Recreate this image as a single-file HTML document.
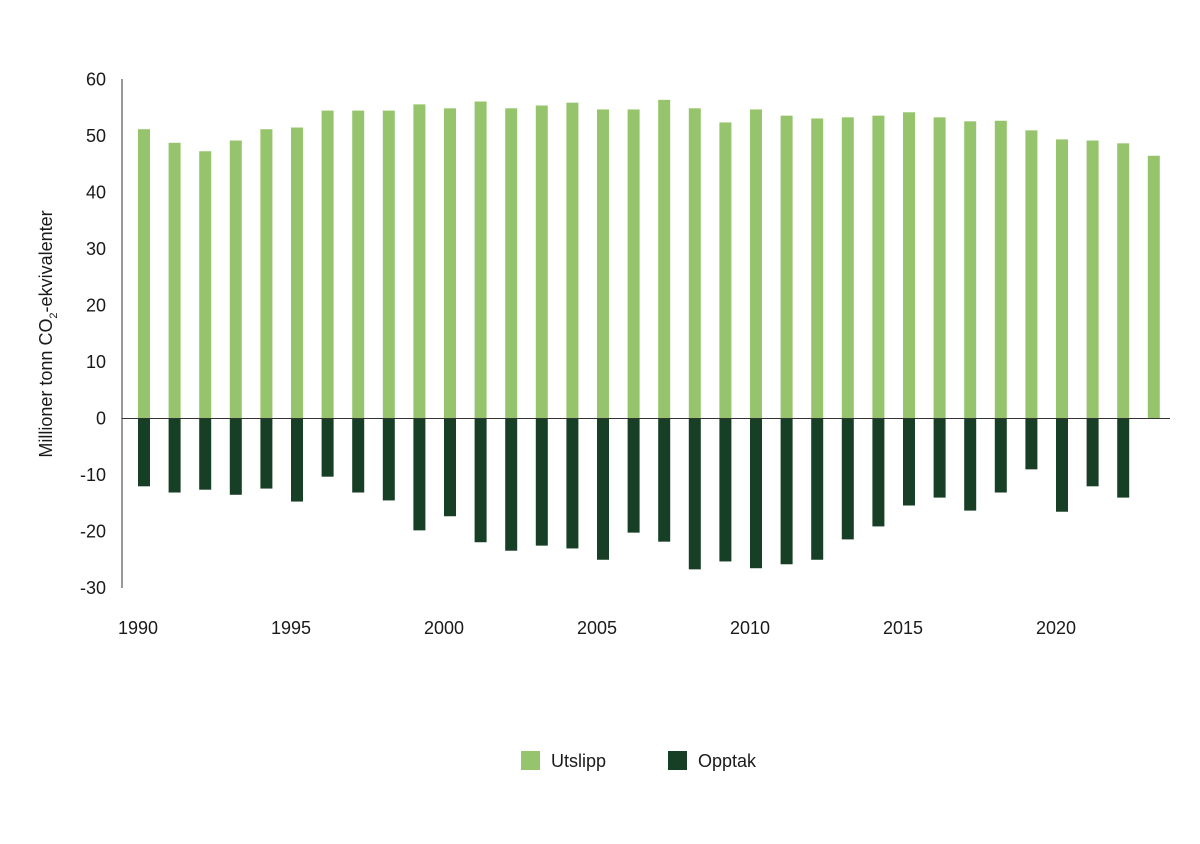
<!DOCTYPE html>
<html><head><meta charset="utf-8"><style>
body{margin:0;background:#fff;}
svg text{font-family:"Liberation Sans",sans-serif;fill:#1a1a1a;}
</style></head><body>
<svg width="1200" height="839">
<g id="ticks"></g><g id="bars"></g>
<line x1="122" y1="79" x2="122" y2="588" stroke="#333" stroke-width="1"/>
<line x1="122" y1="418.5" x2="1170" y2="418.5" stroke="#333" stroke-width="1"/>
<text transform="translate(52,334) rotate(-90)" text-anchor="middle" font-size="18">Millioner tonn CO<tspan font-size="11" dy="5">2</tspan><tspan dy="-5">-ekvivalenter</tspan></text>
<g>
<rect x="521" y="751" width="19" height="19" fill="#96c46c"/>
<text x="551" y="767" font-size="18">Utslipp</text>
<rect x="668" y="751" width="19" height="19" fill="#173f25"/>
<text x="698" y="767" font-size="18">Opptak</text>
</g>
</svg>
<script>
const years=[1990,1991,1992,1993,1994,1995,1996,1997,1998,1999,2000,2001,2002,2003,2004,2005,2006,2007,2008,2009,2010,2011,2012,2013,2014,2015,2016,2017,2018,2019,2020,2021,2022,2023];
const utslipp=[51.2,48.8,47.3,49.2,51.2,51.5,54.5,54.5,54.5,55.6,54.9,56.1,54.9,55.4,55.9,54.7,54.7,56.4,54.9,52.4,54.7,53.6,53.1,53.3,53.6,54.2,53.3,52.6,52.7,51.0,49.4,49.2,48.7,46.5];
const opptak=[-12.0,-13.1,-12.6,-13.5,-12.4,-14.7,-10.3,-13.1,-14.5,-19.8,-17.3,-21.9,-23.4,-22.5,-23.0,-25.0,-20.2,-21.8,-26.7,-25.3,-26.5,-25.8,-25.0,-21.4,-19.1,-15.4,-14.0,-16.3,-13.1,-9.0,-16.5,-12.0,-14.0,0];
const yTicks=[60,50,40,30,20,10,0,-10,-20,-30];
const xTicks=[1990,1995,2000,2005,2010,2015,2020];
const NS="http://www.w3.org/2000/svg";
const y=v=>418.5-v*5.65;
const x=yr=>144+(yr-1990)*30.6;
const bars=document.getElementById('bars'),ticks=document.getElementById('ticks');
function mk(tag,attrs,parent){const e=document.createElementNS(NS,tag);for(const k in attrs)e.setAttribute(k,attrs[k]);parent.appendChild(e);return e;}
yTicks.forEach(v=>{const t=mk('text',{x:106,y:y(v)+6,'text-anchor':'end','font-size':18},ticks);t.textContent=v;

});
xTicks.forEach(v=>{const t=mk('text',{x:x(v)-6,y:634,'text-anchor':'middle','font-size':18},ticks);t.textContent=v;

});
years.forEach((yr,i)=>{
const u=utslipp[i],o=opptak[i];
const r1=mk('rect',{x:x(yr)-6,y:Math.min(y(u),y(0)),width:12,height:Math.abs(y(u)-y(0)),fill:'#96c46c'},bars);


const r2=mk('rect',{x:x(yr)-6,y:Math.min(y(o),y(0)),width:12,height:Math.abs(y(o)-y(0)),fill:'#173f25'},bars);


});
</script>
</body></html>
